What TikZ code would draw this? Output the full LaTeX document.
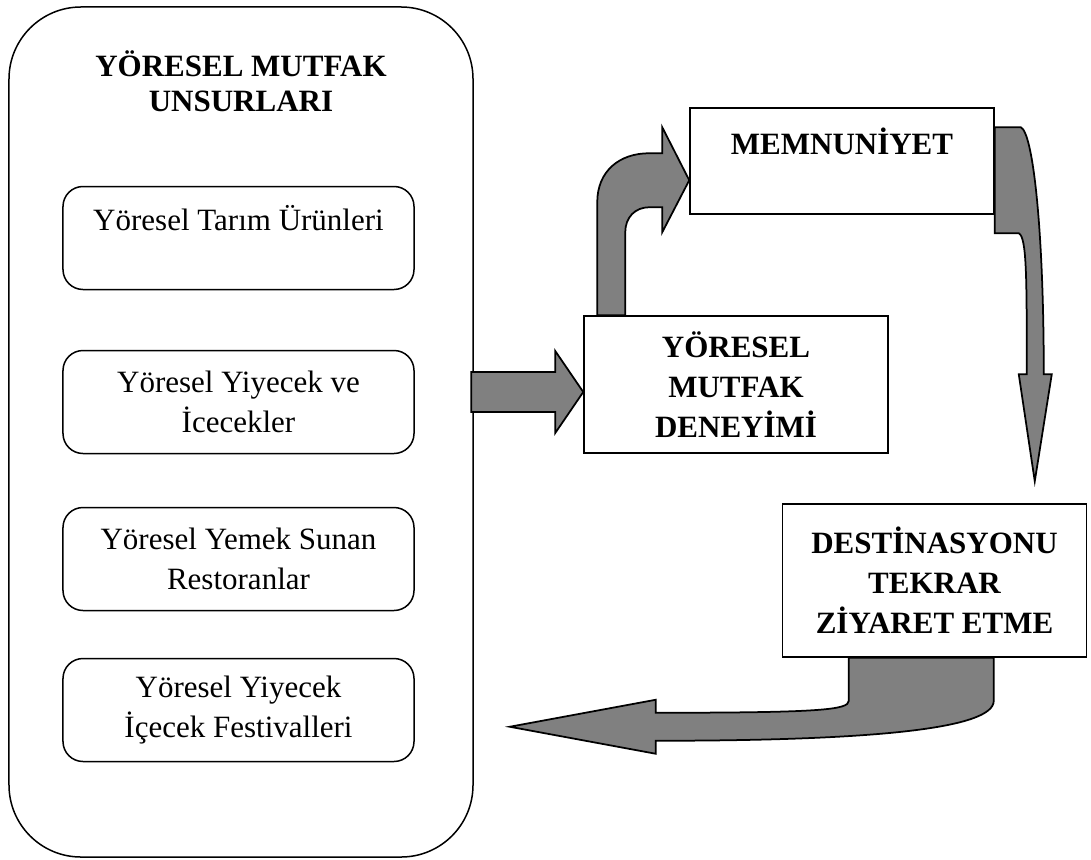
\documentclass[tikz,border=0pt]{standalone}
\usepackage{fontspec}
\setmainfont{Liberation Serif}
\usepackage{tikz}
\usetikzlibrary{calc}

\begin{document}
\begin{tikzpicture}[x=0.4pt,y=-0.4pt,
    kutu/.style={draw,line width=0.6pt,fill=white,rounded corners=8pt,minimum width=140.4pt,minimum height=41.2pt,inner sep=0pt,align=center,font=\fontsize{12.4}{16}\selectfont},
    sonuc/.style={draw,line width=0.6pt,fill=white,minimum width=121.6pt,inner sep=0pt,align=center,font=\fontsize{12.4}{16}\selectfont\bfseries},
    okgri/.style={draw,line width=0.7pt,fill=gray,line join=miter}]
        \useasboundingbox (0,0) rectangle (1091,859);

        % Draw the big rounded box with the elements of local cuisine
        \node[draw,line width=0.6pt,rounded corners=28.8pt,minimum width=185.6pt,minimum height=340pt,inner sep=0pt] (unsur) at (241,432) {};
        \node[align=center,font=\fontsize{12.4}{14}\selectfont\bfseries] (baslik) at (241,81) {YÖRESEL MUTFAK\\UNSURLARI};

        % The four elements
        \node[kutu] (tarim) at (238.5,238) {Yöresel Tarım Ürünleri\\\mbox{}};
        \node[kutu] (yiyecek) at (238.5,402) {Yöresel Yiyecek ve\\İcecekler};
        \node[kutu] (restoran) at (238.5,559) {Yöresel Yemek Sunan\\Restoranlar};
        \node[kutu] (festival) at (238.5,710) {Yöresel Yiyecek\\İçecek Festivalleri};

        % The experience, satisfaction and revisit boxes
        \node[sonuc,minimum height=54.8pt] (deneyim) at (736,384.5) {YÖRESEL\\MUTFAK\\DENEYİMİ};
        \node[sonuc,minimum height=42.4pt] (memnun) at (842,161) {MEMNUNİYET\\\mbox{}};
        \node[sonuc,minimum height=61.2pt] (tekrar) at (934.5,580.5) {DESTİNASYONU\\TEKRAR\\ZİYARET ETME};

        % Straight arrow into the experience
        \begin{scope}[shift={(deneyim.west)}]
            \draw[okgri] (-112,-12.5) -- (-28,-12.5) -- (-28,-33.5) -- (0,7.5) -- (-28,48.5) -- (-28,27.5) -- (-112,27.5) -- cycle;
        \end{scope}

        % Bent arrow up to satisfaction
        \begin{scope}[shift={(deneyim.north west)}]
            \draw[okgri] (14,0) -- (14,-113) .. controls (14,-144) and (36,-162) .. (66,-162) -- (79,-162) -- (79,-188) -- (106,-135) -- (79,-83) -- (79,-108) -- (66,-108) .. controls (52,-108) and (42,-98) .. (42,-83) -- (42,0) -- cycle;
        \end{scope}

        % Curved arrow down to revisit
        \begin{scope}[shift={(memnun.north east)}]
            \draw[okgri] (0,20) -- (26,20) .. controls (38,25) and (49,120) .. (49,267) -- (57,267) -- (40,374) -- (24,267) -- (32,267) .. controls (32,170) and (32,130) .. (24,126) -- (0,126) -- cycle;
        \end{scope}

        % Curved arrow back to the left
        \begin{scope}[shift={(tekrar.south west)}]
            \draw[okgri] (67,0) -- (67,43) .. controls (67,52) and (40,55) .. (-126,55) -- (-126,42) -- (-272,69) -- (-126,96) -- (-126,83) .. controls (100,83) and (212,70) .. (212,43) -- (212,0) -- cycle;
        \end{scope}

    \end{tikzpicture}
\end{document}
